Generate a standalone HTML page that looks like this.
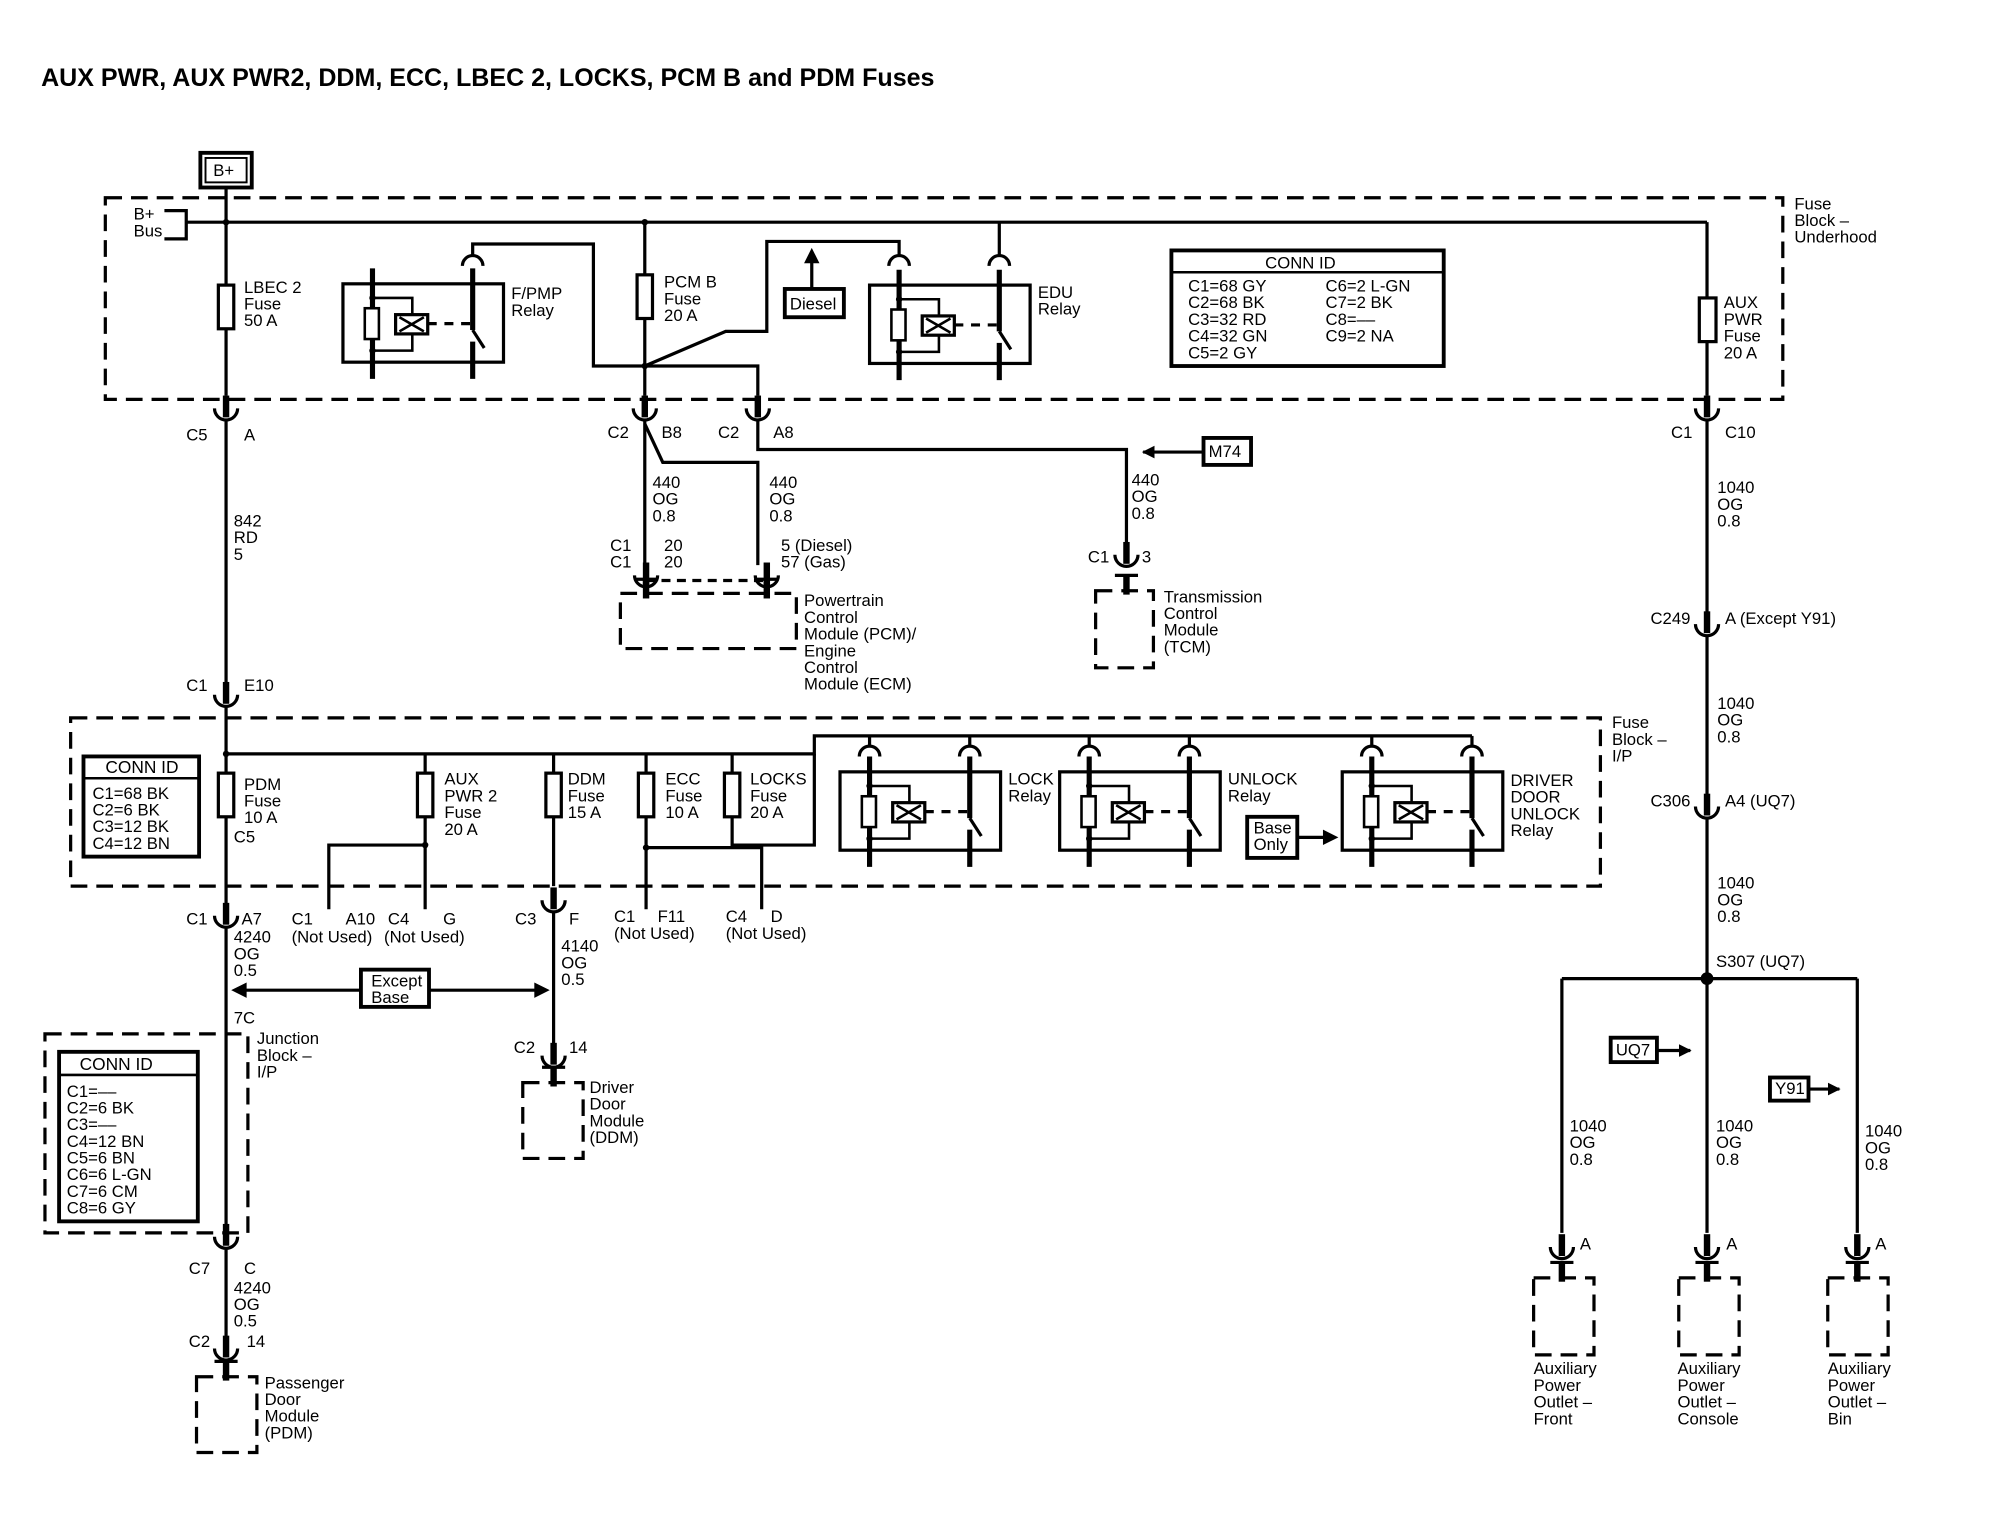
<!DOCTYPE html>
<html><head><meta charset="utf-8"><style>
html,body{margin:0;padding:0;background:#fff;}
svg{display:block;}
text{font-family:"Liberation Sans",Arial,sans-serif;font-size:13px;fill:#000;}
.b{font-weight:bold;}
</style></head><body>
<svg width="2014" height="1536" viewBox="0 0 1568 1196" preserveAspectRatio="none" xmlns="http://www.w3.org/2000/svg">
<defs>
<g id="cn"><path d="M-9,-4 A9,9 0 0 0 9,-4" fill="none" stroke="#000" stroke-width="2.5"/><line x1="0" y1="-14" x2="0" y2="3" stroke="#000" stroke-width="5"/></g>
<g id="dv"><line x1="-9" y1="-12" x2="9" y2="-12" stroke="#000" stroke-width="2.5"/><line x1="0" y1="-12" x2="0" y2="3" stroke="#000" stroke-width="5"/></g>
<g id="ac"><path d="M-8,8 A8,8 0 0 1 8,8" fill="none" stroke="#000" stroke-width="2.5"/></g>
<g id="rl" fill="none" stroke="#000">
<rect x="0" y="0" width="125" height="61" stroke-width="2.5"/>
<line x1="23" y1="-12" x2="23" y2="74" stroke-width="4"/>
<line x1="101" y1="-12" x2="101" y2="36" stroke-width="4"/>
<line x1="101" y1="45" x2="101" y2="74" stroke-width="4"/>
<line x1="101" y1="36" x2="110" y2="50" stroke-width="2.5"/>
<rect x="17" y="19" width="11" height="24" fill="#fff" stroke-width="2"/>
<path d="M23,11 H54 V52 H23" stroke-width="2"/>
<rect x="41" y="24" width="25" height="15" fill="#fff" stroke-width="2.5"/>
<path d="M44,26 L63,37 M44,37 L63,26" stroke-width="2"/>
<line x1="66" y1="31" x2="99" y2="31" stroke-width="2.5" stroke-dasharray="7,6"/>
<circle cx="23" cy="11" r="2" fill="#000"/><circle cx="23" cy="52" r="2" fill="#000"/>
</g>
<marker id="ar" markerWidth="10" markerHeight="10" refX="9" refY="5" orient="auto" markerUnits="userSpaceOnUse"><path d="M0,0 L10,5 L0,10 z" fill="#000"/></marker>
</defs>

<text x="32" y="67" class="b" style="font-size:19.5px">AUX PWR, AUX PWR2, DDM, ECC, LBEC 2, LOCKS, PCM B and PDM Fuses</text>

<g fill="none" stroke="#000" stroke-width="2.5">
<rect x="156" y="119" width="40" height="27" stroke-width="3"/>
<rect x="160" y="123" width="32" height="19" stroke-width="1.5"/>
<rect x="82" y="154" width="1306" height="157" stroke-dasharray="13,7"/>
<rect x="55" y="559" width="1191" height="131" stroke-dasharray="13,7"/>
<rect x="35" y="805" width="158" height="155" stroke-dasharray="13,7"/>
<path d="M128,164 H145 V186 H128"/>
<line x1="145" y1="173" x2="1329" y2="173"/>
<line x1="176" y1="146" x2="176" y2="308"/>
<line x1="502" y1="173" x2="502" y2="308"/>
<line x1="1329" y1="173" x2="1329" y2="308"/>
<path d="M368,199 V190 H462 V285 H590 V308"/>
<path d="M502,285 L565,258 H597 V188 H700 V199"/>
<line x1="778" y1="173" x2="778" y2="199"/>
<rect x="170" y="222" width="12" height="34" fill="#fff"/>
<rect x="496" y="214" width="12" height="34" fill="#fff"/>
<rect x="1323" y="232" width="13" height="34" fill="#fff"/>
<rect x="611" y="225" width="46" height="22" stroke-width="3"/>
<line x1="632" y1="225" x2="632" y2="203"/>
<rect x="912" y="195" width="212" height="90" stroke-width="3"/>
<line x1="912" y1="212" x2="1124" y2="212" stroke-width="2"/>
<line x1="502" y1="327" x2="502" y2="440"/>
<path d="M502,330 L516,360 H590 V440"/>
<path d="M590,327 V350 H877 V422"/>
<line x1="1329" y1="327" x2="1329" y2="478"/>
<line x1="1329" y1="495" x2="1329" y2="620"/>
<line x1="1329" y1="637" x2="1329" y2="960"/>
<line x1="1216" y1="762" x2="1446" y2="762"/>
<line x1="1216" y1="762" x2="1216" y2="960"/>
<line x1="1446" y1="762" x2="1446" y2="960"/>
<rect x="937" y="341" width="37" height="21" stroke-width="3"/>
<rect x="1254" y="808" width="36" height="19" stroke-width="3"/>
<rect x="1378" y="839" width="30" height="18" stroke-width="3"/>
<rect x="483" y="462" width="137" height="43" stroke-dasharray="13,7"/>
<line x1="503" y1="452" x2="597" y2="452" stroke-dasharray="7,5"/>
<rect x="853" y="460" width="45" height="60" stroke-dasharray="13,7"/>
<line x1="176" y1="327" x2="176" y2="532"/>
<line x1="176" y1="550" x2="176" y2="705"/>
<line x1="176" y1="722" x2="176" y2="955"/>
<line x1="176" y1="972" x2="176" y2="1041"/>
<path d="M176,587 H634 V573 H1146"/>
<line x1="331" y1="587" x2="331" y2="708"/>
<line x1="431" y1="587" x2="431" y2="690"/>
<line x1="503" y1="587" x2="503" y2="708"/>
<path d="M570,587 V658 H634 V587"/>
<path d="M256,708 V658 H331"/>
<path d="M503,660 H593 V708"/>
<line x1="677" y1="573" x2="677" y2="581"/><line x1="755" y1="573" x2="755" y2="581"/>
<line x1="848" y1="573" x2="848" y2="581"/><line x1="926" y1="573" x2="926" y2="581"/>
<line x1="1068" y1="573" x2="1068" y2="581"/><line x1="1146" y1="573" x2="1146" y2="581"/>
<rect x="170" y="602" width="12" height="34" fill="#fff"/>
<rect x="325" y="602" width="12" height="34" fill="#fff"/>
<rect x="425" y="602" width="12" height="34" fill="#fff"/>
<rect x="497" y="602" width="12" height="34" fill="#fff"/>
<rect x="564" y="602" width="12" height="34" fill="#fff"/>
<rect x="65" y="589" width="90" height="78" stroke-width="3"/>
<line x1="65" y1="606" x2="155" y2="606" stroke-width="2"/>
<rect x="971" y="636" width="39" height="32" stroke-width="3"/>
<line x1="1010" y1="652" x2="1032" y2="652"/>
<rect x="281" y="755" width="53" height="29" stroke-width="3"/>
<line x1="334" y1="771" x2="420" y2="771"/>
<line x1="281" y1="771" x2="188" y2="771"/>
<line x1="431" y1="710" x2="431" y2="813"/>
<rect x="46" y="819" width="108" height="132" stroke-width="3"/>
<line x1="46" y1="837" x2="154" y2="837" stroke-width="2"/>
<rect x="153" y="1072" width="47" height="59" stroke-dasharray="13,7"/>
<rect x="407" y="843" width="47" height="59" stroke-dasharray="13,7"/>
<rect x="1194" y="995" width="47" height="60" stroke-dasharray="13,7"/>
<rect x="1307" y="995" width="47" height="60" stroke-dasharray="13,7"/>
<rect x="1423" y="995" width="47" height="60" stroke-dasharray="13,7"/>
<line x1="937" y1="352" x2="890" y2="352" marker-end="url(#ar)"/>
<line x1="1290" y1="818" x2="1316" y2="818" marker-end="url(#ar)"/>
<line x1="1408" y1="848" x2="1432" y2="848" marker-end="url(#ar)"/>
</g>
<path d="M632,193 L626,205 L638,205 z" fill="#000"/>
<path d="M1042,652 L1030,646 L1030,658 z" fill="#000"/>
<path d="M180,771 L192,765 L192,777 z" fill="#000"/>
<path d="M428,771 L416,765 L416,777 z" fill="#000"/>
<circle cx="176" cy="173" r="2.5"/><circle cx="502" cy="173" r="2.5"/><circle cx="502" cy="285" r="2.5"/>
<circle cx="176" cy="587" r="2.5"/><circle cx="331" cy="658" r="2.5"/><circle cx="503" cy="660" r="2.5"/>
<circle cx="1329" cy="762" r="5"/>

<use href="#rl" x="267" y="221"/>
<use href="#rl" x="677" y="222"/>
<use href="#rl" x="654" y="601"/>
<use href="#rl" x="825" y="601"/>
<use href="#rl" x="1045" y="601"/>
<use href="#ac" x="368" y="199"/>
<use href="#ac" x="700" y="199"/><use href="#ac" x="778" y="199"/>
<use href="#ac" x="677" y="581"/><use href="#ac" x="755" y="581"/>
<use href="#ac" x="848" y="581"/><use href="#ac" x="926" y="581"/>
<use href="#ac" x="1068" y="581"/><use href="#ac" x="1146" y="581"/>

<use href="#cn" x="176" y="322"/><use href="#cn" x="502" y="322"/><use href="#cn" x="590" y="322"/><use href="#cn" x="1329" y="322"/>
<use href="#cn" x="176" y="545"/><use href="#cn" x="503" y="452"/><use href="#cn" x="597" y="452"/><use href="#cn" x="877" y="436"/>
<use href="#cn" x="1329" y="490"/><use href="#cn" x="1329" y="632"/><use href="#cn" x="176" y="717"/><use href="#cn" x="431" y="705"/>
<use href="#cn" x="176" y="967"/><use href="#cn" x="176" y="1054"/><use href="#cn" x="431" y="826"/>
<use href="#cn" x="1216" y="975"/><use href="#cn" x="1329" y="975"/><use href="#cn" x="1446" y="975"/>
<use href="#dv" x="503" y="463"/><use href="#dv" x="597" y="463"/><use href="#dv" x="877" y="460"/>
<use href="#dv" x="176" y="1072"/><use href="#dv" x="431" y="843"/><use href="#dv" x="1216" y="995"/><use href="#dv" x="1329" y="995"/><use href="#dv" x="1446" y="995"/>

<text x="166" y="137">B+</text>
<text x="104" y="171">B+</text><text x="104" y="184">Bus</text>
<text x="1397" y="163">Fuse</text><text x="1397" y="176">Block –</text><text x="1397" y="189">Underhood</text>
<text x="190" y="228">LBEC 2</text><text x="190" y="241">Fuse</text><text x="190" y="254">50 A</text>
<text x="398" y="233">F/PMP</text><text x="398" y="246">Relay</text>
<text x="517" y="224">PCM B</text><text x="517" y="237">Fuse</text><text x="517" y="250">20 A</text>
<text x="615" y="241">Diesel</text>
<text x="808" y="232">EDU</text><text x="808" y="245">Relay</text>
<text x="985" y="209">CONN ID</text>
<text x="925" y="227">C1=68 GY</text><text x="925" y="240">C2=68 BK</text><text x="925" y="253">C3=32 RD</text><text x="925" y="266">C4=32 GN</text><text x="925" y="279">C5=2 GY</text>
<text x="1032" y="227">C6=2 L-GN</text><text x="1032" y="240">C7=2 BK</text><text x="1032" y="253">C8=––</text><text x="1032" y="266">C9=2 NA</text>
<text x="1342" y="240">AUX</text><text x="1342" y="253">PWR</text><text x="1342" y="266">Fuse</text><text x="1342" y="279">20 A</text>
<text x="145" y="343">C5</text><text x="190" y="343">A</text>
<text x="473" y="341">C2</text><text x="515" y="341">B8</text><text x="559" y="341">C2</text><text x="602" y="341">A8</text>
<text x="1301" y="341">C1</text><text x="1343" y="341">C10</text>
<text x="941" y="356">M74</text>
<text x="508" y="380">440</text><text x="508" y="393">OG</text><text x="508" y="406">0.8</text>
<text x="599" y="380">440</text><text x="599" y="393">OG</text><text x="599" y="406">0.8</text>
<text x="881" y="378">440</text><text x="881" y="391">OG</text><text x="881" y="404">0.8</text>
<text x="1337" y="384">1040</text><text x="1337" y="397">OG</text><text x="1337" y="410">0.8</text>
<text x="182" y="410">842</text><text x="182" y="423">RD</text><text x="182" y="436">5</text>
<text x="475" y="429">C1</text><text x="475" y="442">C1</text><text x="517" y="429">20</text><text x="517" y="442">20</text>
<text x="608" y="429">5 (Diesel)</text><text x="608" y="442">57 (Gas)</text>
<text x="847" y="438">C1</text><text x="889" y="438">3</text>
<text x="626" y="472">Powertrain</text><text x="626" y="485">Control</text><text x="626" y="498">Module (PCM)/</text><text x="626" y="511">Engine</text><text x="626" y="524">Control</text><text x="626" y="537">Module (ECM)</text>
<text x="906" y="469">Transmission</text><text x="906" y="482">Control</text><text x="906" y="495">Module</text><text x="906" y="508">(TCM)</text>
<text x="1285" y="486">C249</text><text x="1343" y="486">A (Except Y91)</text>
<text x="145" y="538">C1</text><text x="190" y="538">E10</text>
<text x="1337" y="552">1040</text><text x="1337" y="565">OG</text><text x="1337" y="578">0.8</text>
<text x="1255" y="567">Fuse</text><text x="1255" y="580">Block –</text><text x="1255" y="593">I/P</text>
<text x="82" y="602" style="font-size:13.5px">CONN ID</text>
<text x="72" y="622">C1=68 BK</text><text x="72" y="635">C2=6 BK</text><text x="72" y="648">C3=12 BK</text><text x="72" y="661">C4=12 BN</text>
<text x="190" y="615">PDM</text><text x="190" y="628">Fuse</text><text x="190" y="641">10 A</text><text x="182" y="656">C5</text>
<text x="346" y="611">AUX</text><text x="346" y="624">PWR 2</text><text x="346" y="637">Fuse</text><text x="346" y="650">20 A</text>
<text x="442" y="611">DDM</text><text x="442" y="624">Fuse</text><text x="442" y="637">15 A</text>
<text x="518" y="611">ECC</text><text x="518" y="624">Fuse</text><text x="518" y="637">10 A</text>
<text x="584" y="611">LOCKS</text><text x="584" y="624">Fuse</text><text x="584" y="637">20 A</text>
<text x="785" y="611">LOCK</text><text x="785" y="624">Relay</text>
<text x="956" y="611">UNLOCK</text><text x="956" y="624">Relay</text>
<text x="1176" y="612">DRIVER</text><text x="1176" y="625">DOOR</text><text x="1176" y="638">UNLOCK</text><text x="1176" y="651">Relay</text>
<text x="976" y="649">Base</text><text x="976" y="662">Only</text>
<text x="1285" y="628">C306</text><text x="1343" y="628">A4 (UQ7)</text>
<text x="1337" y="692">1040</text><text x="1337" y="705">OG</text><text x="1337" y="718">0.8</text>
<text x="145" y="720">C1</text><text x="188" y="720">A7</text>
<text x="182" y="734">4240</text><text x="182" y="747">OG</text><text x="182" y="760">0.5</text>
<text x="227" y="720">C1</text><text x="269" y="720">A10</text><text x="227" y="734">(Not Used)</text>
<text x="302" y="720">C4</text><text x="345" y="720">G</text><text x="299" y="734">(Not Used)</text>
<text x="401" y="720">C3</text><text x="443" y="720">F</text>
<text x="437" y="741">4140</text><text x="437" y="754">OG</text><text x="437" y="767">0.5</text>
<text x="478" y="718">C1</text><text x="512" y="718">F11</text><text x="478" y="731">(Not Used)</text>
<text x="565" y="718">C4</text><text x="600" y="718">D</text><text x="565" y="731">(Not Used)</text>
<text x="1336" y="753">S307 (UQ7)</text>
<text x="289" y="768">Except</text><text x="289" y="781">Base</text>
<text x="182" y="797">7C</text>
<text x="200" y="813">Junction</text><text x="200" y="826">Block –</text><text x="200" y="839">I/P</text>
<text x="62" y="833" style="font-size:13.5px">CONN ID</text>
<text x="52" y="854">C1=––</text><text x="52" y="867">C2=6 BK</text><text x="52" y="880">C3=––</text><text x="52" y="893">C4=12 BN</text><text x="52" y="906">C5=6 BN</text><text x="52" y="919">C6=6 L-GN</text><text x="52" y="932">C7=6 CM</text><text x="52" y="945">C8=6 GY</text>
<text x="1258" y="822">UQ7</text><text x="1382" y="852">Y91</text>
<text x="400" y="820">C2</text><text x="443" y="820">14</text>
<text x="459" y="851">Driver</text><text x="459" y="864">Door</text><text x="459" y="877">Module</text><text x="459" y="890">(DDM)</text>
<text x="1222" y="881">1040</text><text x="1222" y="894">OG</text><text x="1222" y="907">0.8</text>
<text x="1336" y="881">1040</text><text x="1336" y="894">OG</text><text x="1336" y="907">0.8</text>
<text x="1452" y="885">1040</text><text x="1452" y="898">OG</text><text x="1452" y="911">0.8</text>
<text x="1230" y="973">A</text><text x="1344" y="973">A</text><text x="1460" y="973">A</text>
<text x="147" y="992">C7</text><text x="190" y="992">C</text>
<text x="182" y="1007">4240</text><text x="182" y="1020">OG</text><text x="182" y="1033">0.5</text>
<text x="147" y="1049">C2</text><text x="192" y="1049">14</text>
<text x="206" y="1081">Passenger</text><text x="206" y="1094">Door</text><text x="206" y="1107">Module</text><text x="206" y="1120">(PDM)</text>
<text x="1194" y="1070">Auxiliary</text><text x="1194" y="1083">Power</text><text x="1194" y="1096">Outlet –</text><text x="1194" y="1109">Front</text>
<text x="1306" y="1070">Auxiliary</text><text x="1306" y="1083">Power</text><text x="1306" y="1096">Outlet –</text><text x="1306" y="1109">Console</text>
<text x="1423" y="1070">Auxiliary</text><text x="1423" y="1083">Power</text><text x="1423" y="1096">Outlet –</text><text x="1423" y="1109">Bin</text>
</svg>
</body></html>
